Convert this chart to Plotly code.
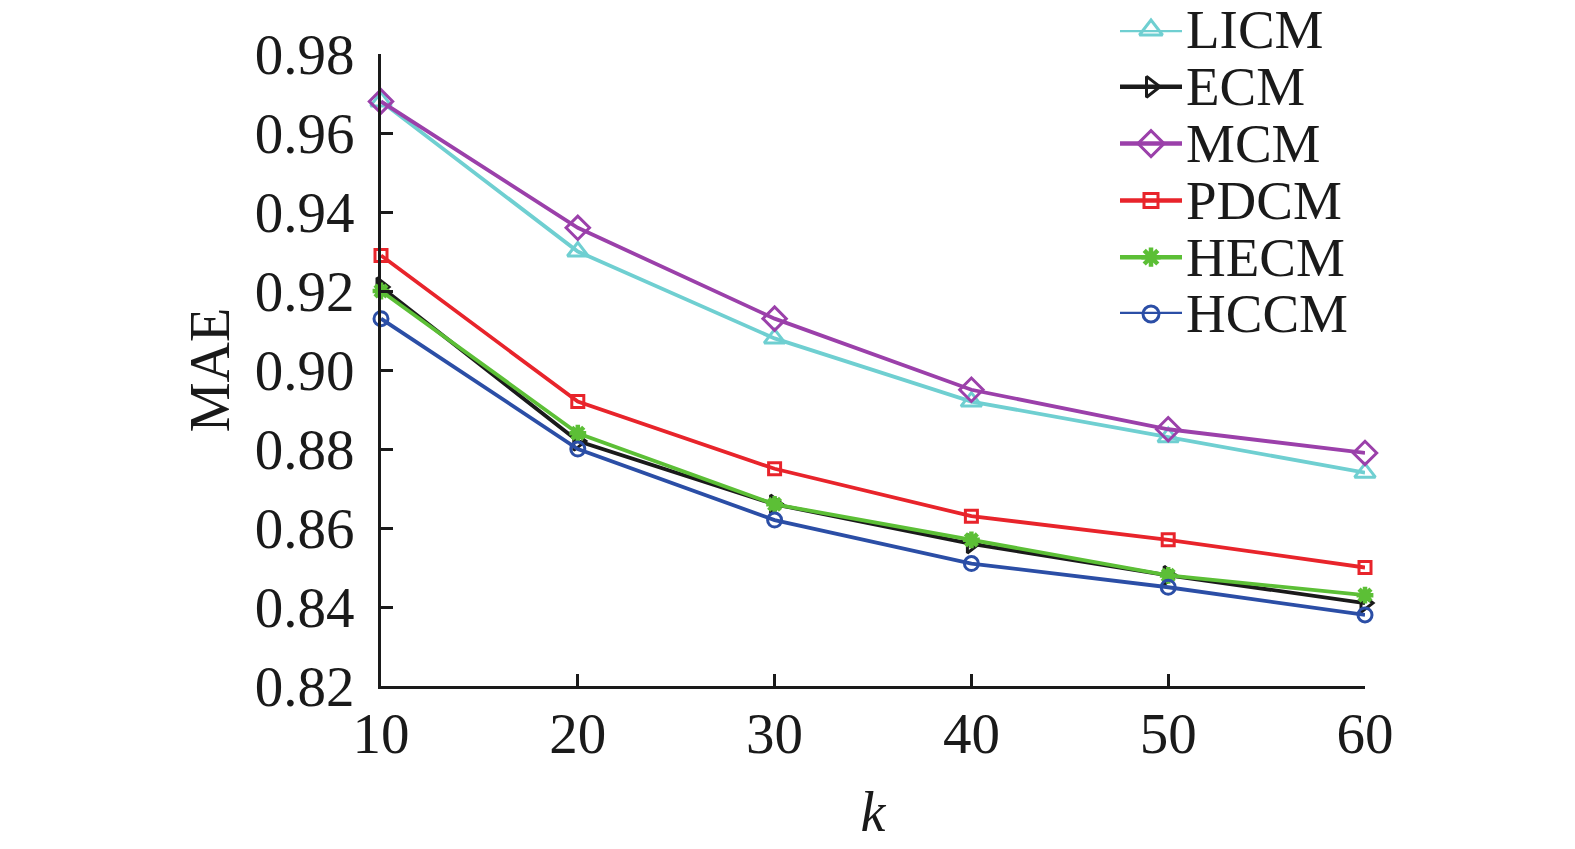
import plotly.graph_objects as go

k = [10, 20, 30, 40, 50, 60]
names = ["LICM", "ECM", "MCM", "PDCM", "HECM", "HCCM"]
licm = [0.968, 0.930, 0.908, 0.892, 0.883, 0.874]
ecm = [0.921, 0.882, 0.866, 0.856, 0.848, 0.841]
mcm = [0.968, 0.936, 0.913, 0.895, 0.885, 0.879]
pdcm = [0.929, 0.892, 0.875, 0.863, 0.857, 0.850]
hecm = [0.920, 0.884, 0.866, 0.857, 0.848, 0.843]
hccm = [0.913, 0.880, 0.862, 0.851, 0.845, 0.838]
y_ticks = [0.82, 0.84, 0.86, 0.88, 0.90, 0.92, 0.94, 0.96, 0.98]

series = [licm, ecm, mcm, pdcm, hecm, hccm]
colors = ["#6FCFD1", "#1A1A1A", "#9B40AA", "#E8242B", "#5CBF36", "#2B4EA6"]
symbols = ["triangle-up-open", "triangle-right-open", "diamond-open",
           "square-open", "asterisk-open", "circle-open"]
sizes = [18, 16, 18, 12, 14, 14]
mlw = [3, 3, 3, 3, 4.5, 3]

W, H = 1575, 849
# plot area in pixels
L, R, T, B = 373, 1357, 46, 678
font = "Liberation Serif, Times New Roman, serif"
ink = "#1a1a1a"

fig = go.Figure()
for n, s, c, sym, sz, lw in zip(names, series, colors, symbols, sizes, mlw):
    fig.add_trace(go.Scatter(
        x=k, y=s, name=n, mode="lines+markers", showlegend=False,
        line=dict(color=c, width=3.8),
        marker=dict(symbol=sym, size=sz, color=c, line=dict(color=c, width=lw)),
        cliponaxis=False,
    ))

# manual legend on an overlay axis pair
leg_x0, leg_x1 = 1112, 1174
leg_ytop, leg_ybot = 22, 306
leg_text_x = 1176
for i, (n, c, sym, sz, lw) in enumerate(zip(names, colors, symbols, sizes, mlw)):
    fig.add_trace(go.Scatter(
        x=[0, 0.5, 1], y=[i, i, i], mode="lines", xaxis="x2", yaxis="y2",
        line=dict(color=c, width=4.5), showlegend=False, hoverinfo="skip",
        cliponaxis=False,
    ))
    fig.add_trace(go.Scatter(
        x=[0.5], y=[i], mode="markers", xaxis="x2", yaxis="y2",
        marker=dict(symbol=sym, size=sz + 2, color=c, line=dict(color=c, width=lw)),
        showlegend=False, hoverinfo="skip", cliponaxis=False,
    ))
    fig.add_annotation(x=leg_text_x / W, y=i, xref="paper", yref="y2", text=n,
                       showarrow=False, xanchor="left", yanchor="middle",
                       font=dict(family=font, size=55, color=ink))

fig.update_layout(
    width=W, height=H,
    paper_bgcolor="white", plot_bgcolor="white",
    margin=dict(l=0, r=0, t=0, b=0, autoexpand=False),
    font=dict(family=font, size=57, color=ink),
    showlegend=False,
    xaxis=dict(domain=[L / W, R / W], range=[10, 60], tickvals=k,
               ticks="inside", ticklen=12, tickwidth=2.5, tickcolor=ink,
               showline=True, linecolor=ink, linewidth=3, showgrid=False,
               zeroline=False, ticklabelstandoff=-4, automargin=False,
               title=dict(text="<i>k</i>", font=dict(size=56), standoff=28)),
    yaxis=dict(domain=[(H - B) / H, (H - T) / H], range=[0.82, 0.98],
               tickvals=y_ticks, ticktext=[f"{v:.2f}" for v in y_ticks],
               ticks="inside", ticklen=12, tickwidth=2.5, tickcolor=ink,
               showline=True, linecolor=ink, linewidth=3, showgrid=False,
               zeroline=False, ticklabelstandoff=12, automargin=False,
               title=dict(text="MAE", font=dict(size=56), standoff=8)),
    xaxis2=dict(domain=[leg_x0 / W, leg_x1 / W], range=[0, 1], visible=False,
                anchor="y2", fixedrange=True),
    yaxis2=dict(domain=[(H - leg_ybot) / H, (H - leg_ytop) / H], range=[5, 0],
                visible=False, anchor="x2", fixedrange=True),
)

fig.write_html("out.html")
